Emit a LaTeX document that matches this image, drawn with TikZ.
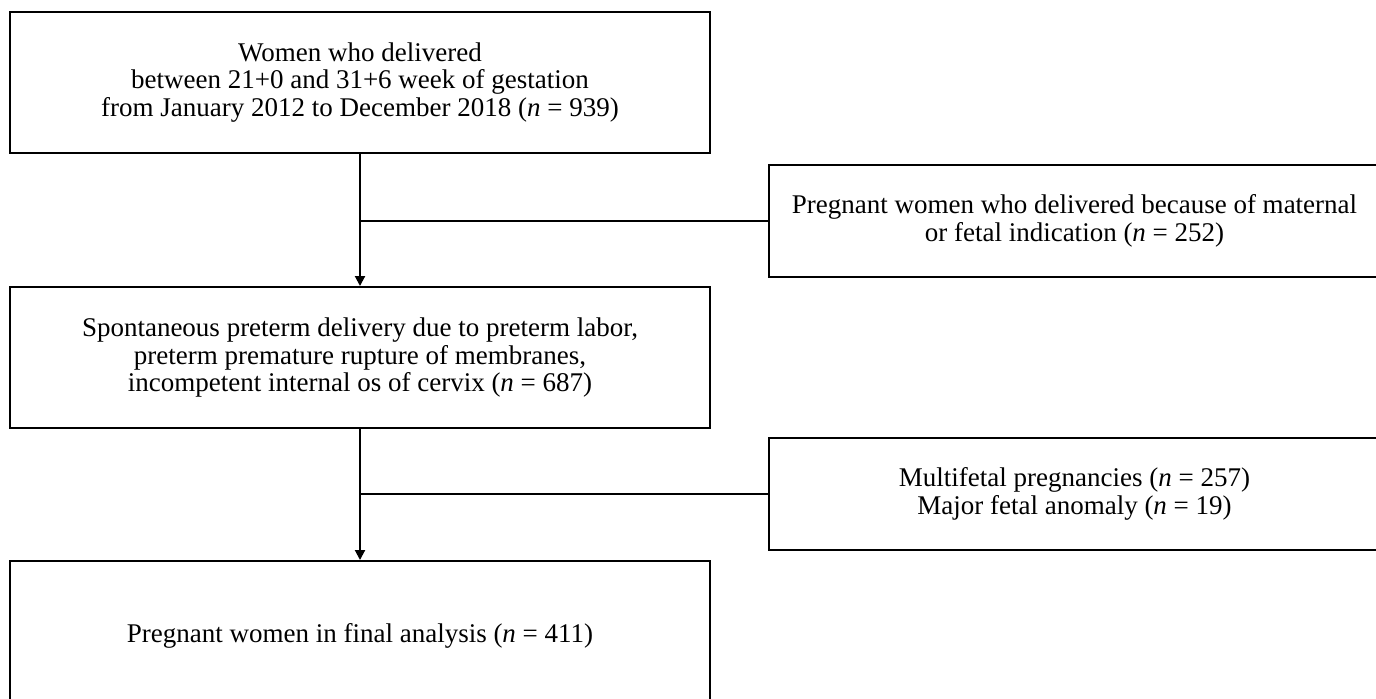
\documentclass[tikz,border=0pt]{standalone}
\usepackage{fontspec}
\setmainfont{Liberation Serif}
\usepackage{tikz}
\usetikzlibrary{positioning, arrows.meta, calc}

\tikzset{
  flowbox/.style={draw=black, line width=1pt, align=center, inner sep=0pt,
    font=\fontsize{13.5}{13.75}\selectfont},
  mainbox/.style={flowbox, minimum width=350pt, minimum height=70.5pt},
  sidebox/.style={flowbox, minimum width=305.5pt, minimum height=56pt},
  flowline/.style={draw=black, line width=1pt},
}

\begin{document}
\begin{tikzpicture}[x=0.5pt, y=-0.5pt]
    \useasboundingbox (0,0) rectangle (1376,698);
    % main column
    \node[mainbox] (all) at (360,82.5) {Women who delivered\\
      between 21+0 and 31+6 week of gestation\\
      from January 2012 to December 2018 (\textit{n} = 939)};
    \node[mainbox] (spont) at (360,357.5) {Spontaneous preterm delivery due to preterm labor,\\
      preterm premature rupture of membranes,\\
      incompetent internal os of cervix (\textit{n} = 687)};
    \node[mainbox, minimum height=75pt] (final) at (360,636) {Pregnant women in final analysis (\textit{n} = 411)};
    % exclusions
    \node[sidebox] (indic) at (1074.5,221) {Pregnant women who delivered because of maternal\\
      or fetal indication (\textit{n} = 252)};
    \node[sidebox] (multi) at (1074.5,494) {Multifetal pregnancies (\textit{n} = 257)\\
      Major fetal anomaly (\textit{n} = 19)};
    % connectors
    \draw[flowline, -{Triangle[length=5pt, width=5pt]}] (all.south) -- (spont.north);
    \draw[flowline, -{Triangle[length=5pt, width=5pt]}] (spont.south) -- (final.north);
    \draw[flowline] (all.south |- indic.west) -- (indic.west);
    \draw[flowline] (spont.south |- multi.west) -- (multi.west);
  \end{tikzpicture}
\end{document}
